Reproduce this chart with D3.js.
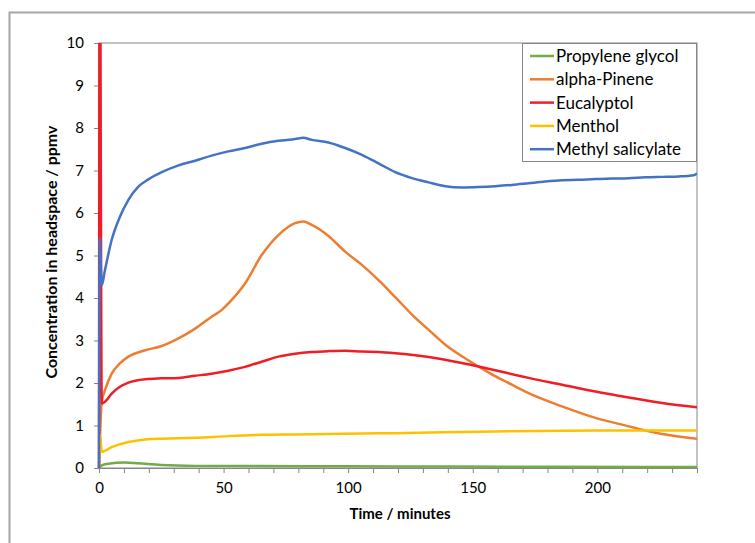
<!DOCTYPE html>
<html>
<head>
<meta charset="utf-8">
<script src="https://cdn.jsdelivr.net/npm/d3@7"></script>
<style>
  body { margin: 0; background: #fff; }
  svg { display: block; font-family: Lato, "Open Sans", sans-serif; }
</style>
</head>
<body>
<div id="chart"></div>
<script>
// series names and colours (legend order)
var seriesNames = ["Propylene glycol", "alpha-Pinene", "Eucalyptol", "Menthol", "Methyl salicylate"];
var seriesColors = ["#70ad47", "#ed7d31", "#f01d24", "#ffc000", "#4472c4"];

// values: time in minutes, concentration in ppmv
var tGlycol = [0, 1.1, 3.7, 10.4, 15.8, 25, 38.6, 65, 100, 140, 180, 220, 240];
var vGlycol = [0, 0.06, 0.10, 0.13, 0.11, 0.07, 0.05, 0.045, 0.04, 0.035, 0.03, 0.025, 0.025];

var tPinene = [0, 1.1, 2.4, 5.1, 8.4, 11.8, 18.5, 25.2, 31.9, 38.6, 45.2, 49.3, 51.9, 58.6, 65.3, 72, 78.7, 82, 85.4, 92.1, 98.8, 105.5, 112.2, 118.9, 125.6, 132.3, 139, 145.6, 152.3, 159, 165.7, 172.4, 185.8, 199.2, 212.6, 219.3, 226, 240];
var vPinene = [0, 1.56, 1.83, 2.22, 2.46, 2.62, 2.77, 2.87, 3.05, 3.28, 3.56, 3.72, 3.87, 4.34, 5.01, 5.48, 5.76, 5.80, 5.72, 5.46, 5.09, 4.78, 4.42, 4.02, 3.61, 3.25, 2.90, 2.63, 2.39, 2.16, 1.96, 1.76, 1.45, 1.18, 0.98, 0.88, 0.80, 0.69];

var tEucal = [0, 0.3, 1.1, 2.4, 5.1, 8.4, 11.8, 18.5, 25.2, 31.9, 38.6, 45.2, 51.9, 58.6, 65.3, 72, 78.7, 85.4, 92.1, 98.8, 105.5, 112.2, 118.9, 132.3, 145.6, 152.3, 159, 172.4, 185.8, 199.2, 212.6, 226, 240];
var vEucal = [0, 14, 1.52, 1.56, 1.75, 1.91, 2.01, 2.09, 2.11, 2.12, 2.17, 2.22, 2.29, 2.38, 2.50, 2.62, 2.69, 2.73, 2.75, 2.76, 2.74, 2.73, 2.70, 2.61, 2.47, 2.39, 2.30, 2.12, 1.96, 1.80, 1.66, 1.53, 1.43];

var tMenthol = [0, 0.5, 1.1, 5.1, 11.8, 18.5, 25.2, 38.6, 51.9, 65.3, 78.7, 92.1, 105.5, 118.9, 159, 199.2, 240];
var vMenthol = [0, 0.77, 0.38, 0.49, 0.61, 0.67, 0.69, 0.71, 0.75, 0.78, 0.79, 0.80, 0.81, 0.82, 0.86, 0.88, 0.88];

var tMethyl = [0, 0.3, 1.1, 2.4, 5.1, 8.4, 11.8, 15.8, 19.8, 25.2, 31.9, 38.6, 45.2, 51.9, 58.6, 65.3, 72, 78.7, 82, 85.4, 92.1, 95.4, 98.8, 105.5, 112.2, 118.9, 125.6, 132.3, 139, 145.6, 152.3, 159, 165.7, 172.4, 179.1, 185.8, 192.5, 199.2, 205.9, 212.6, 219.3, 226, 232.7, 238.7, 240];
var vMethyl = [0, 5.4, 4.3, 4.66, 5.37, 5.91, 6.31, 6.62, 6.79, 6.96, 7.12, 7.23, 7.35, 7.45, 7.53, 7.63, 7.70, 7.74, 7.77, 7.72, 7.66, 7.60, 7.53, 7.37, 7.17, 6.96, 6.82, 6.72, 6.63, 6.60, 6.61, 6.63, 6.66, 6.70, 6.74, 6.77, 6.78, 6.80, 6.81, 6.82, 6.84, 6.85, 6.86, 6.89, 6.93];

var seriesTimes = [tGlycol, tPinene, tEucal, tMenthol, tMethyl];
var seriesValues = [vGlycol, vPinene, vEucal, vMenthol, vMethyl];

var xMajorTicks = [0, 50, 100, 150, 200];
var yTicks = [0, 1, 2, 3, 4, 5, 6, 7, 8, 9, 10];

var W = 755, H = 543;
var margin = {top: 43, right: 58, bottom: 75, left: 99},
    width = W - margin.left - margin.right,
    height = H - margin.top - margin.bottom;

var svg = d3.select("#chart").append("svg")
    .attr("width", W)
    .attr("height", H);

// outer chart frame
svg.append("rect")
    .attr("x", 9.5).attr("y", 12.5)
    .attr("width", 800).attr("height", 600)
    .attr("fill", "none")
    .attr("stroke", "#a6a6a6")
    .attr("stroke-width", 2);

var g = svg.append("g")
    .attr("transform", "translate(" + margin.left + "," + margin.top + ")");

var x = d3.scaleLinear().domain([0, 240]).range([0, width]);
var y = d3.scaleLinear().domain([0, 10]).range([height, 0]);

// plot border
g.append("rect")
    .attr("x", 0).attr("y", 0)
    .attr("width", width).attr("height", height)
    .attr("fill", "none")
    .attr("stroke", "#868686")
    .attr("stroke-width", 1);

g.append("clipPath").attr("id", "clip")
    .append("rect").attr("x", -2).attr("y", 0).attr("width", width + 2).attr("height", height + 1);

// axes
var xAxis = d3.axisBottom(x)
    .tickValues(d3.range(0, 241, 10))
    .tickSize(5)
    .tickSizeOuter(0)
    .tickFormat(d => xMajorTicks.indexOf(d) >= 0 ? d : "");
var yAxis = d3.axisLeft(y).tickValues(yTicks).tickSize(5).tickSizeOuter(0);

var gx = g.append("g").attr("transform", "translate(0," + height + ")").call(xAxis);
var gy = g.append("g").call(yAxis);

[gx, gy].forEach(function(a) {
    a.select(".domain").attr("stroke", "#868686");
    a.selectAll(".tick line").attr("stroke", "#868686");
    a.selectAll(".tick text")
        .attr("fill", "#000")
        .attr("font-size", "15px")
        .attr("font-family", "Lato, 'Open Sans', sans-serif");
});
gx.selectAll(".tick text").attr("dy", "1.15em");
gy.selectAll(".tick text").attr("x", -15);

// lines, drawn in legend order
var line = d3.line()
    .x(d => x(d[0]))
    .y(d => y(d[1]))
    .curve(d3.curveMonotoneX);

var plot = g.append("g").attr("clip-path", "url(#clip)");
seriesNames.forEach(function(name, i) {
    var pts = seriesTimes[i].map((t, j) => [t, seriesValues[i][j]]);
    plot.append("path")
        .datum(pts)
        .attr("fill", "none")
        .attr("stroke", seriesColors[i])
        .attr("stroke-width", 2.5)
        .attr("stroke-linejoin", "round")
        .attr("d", line);
});

// axis titles
svg.append("text")
    .attr("x", 400)
    .attr("y", 519)
    .attr("text-anchor", "middle")
    .attr("font-size", "15px")
    .attr("font-weight", "bold")
    .text("Time / minutes");

svg.append("text")
    .attr("transform", "translate(57,252) rotate(-90)")
    .attr("text-anchor", "middle")
    .attr("font-size", "16px")
    .attr("font-weight", "bold")
    .text("Concentration in headspace / ppmv");

// legend
var lg = svg.append("g");
lg.append("rect")
    .attr("x", 522.5).attr("y", 43.5)
    .attr("width", 174).attr("height", 118)
    .attr("fill", "#fff")
    .attr("stroke", "#868686");

seriesNames.forEach(function(name, i) {
    var yy = 56 + i * 23.3;
    lg.append("line")
        .attr("x1", 530).attr("x2", 554)
        .attr("y1", yy).attr("y2", yy)
        .attr("stroke", seriesColors[i])
        .attr("stroke-width", 2.5);
    lg.append("text")
        .attr("x", 556).attr("y", yy)
        .attr("dy", "0.36em")
        .attr("font-size", "17px")
        .text(name);
});
</script>
</body>
</html>
